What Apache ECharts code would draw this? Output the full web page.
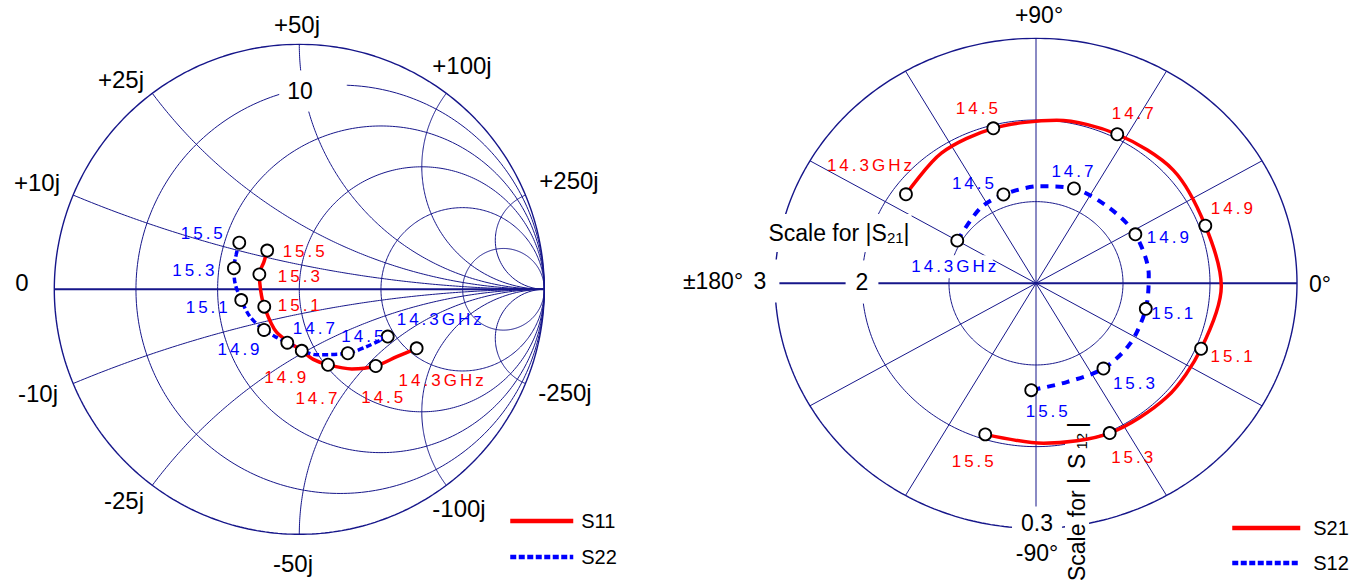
<!DOCTYPE html>
<html><head><meta charset="utf-8">
<script src="https://cdn.jsdelivr.net/npm/echarts@6/dist/echarts.min.js"></script>
<style>html,body{margin:0;padding:0;background:#fff;}#c{width:1368px;height:587px;}</style>
</head><body><div id="c"></div>
<script>
// ---------------- DATA ----------------
const freqs = [14.3,14.4,14.5,14.6,14.7,14.8,14.9,15.0,15.1,15.2,15.3,15.4,15.5];
const markerFreqs = [14.3,14.5,14.7,14.9,15.1,15.3,15.5];
// S11 / S22 reflection coefficient (real, imag)
const s11Re = [0.479,0.398,0.312,0.214,0.117,0.057,0.010,-0.093,-0.143,-0.158,-0.163,-0.144,-0.131];
const s11Im = [-0.241,-0.275,-0.313,-0.325,-0.308,-0.286,-0.251,-0.175,-0.071,-0.003,0.061,0.113,0.158];
const s22Re = [0.361,0.275,0.198,0.071,-0.049,-0.099,-0.144,-0.201,-0.237,-0.262,-0.267,-0.258,-0.245];
const s22Im = [-0.193,-0.234,-0.261,-0.267,-0.218,-0.193,-0.166,-0.112,-0.044,0.024,0.086,0.140,0.190];
// S21 / S12 magnitude and phase (deg)
const s21Mag = [1.85,1.93,1.96,2.01,2.05,2.10,2.07,2.13,2.06,2.05,2.02,1.96,1.94];
const s21Deg = [143.9,124.3,104.5,83.2,62.9,41.3,19.9,-1.0,-22.9,-42.8,-65.2,-87.5,-107.5];
const s12Mag = [0.1045,0.112,0.115,0.119,0.124,0.125,0.129,0.130,0.130,0.131,0.130,0.126,0.131];
const s12Deg = [150,125,109,87.8,69.4,47.2,27.7,4.5,-13.9,-34.2,-53.4,-73.7,-92.4];
// grid definitions
const smithR = [0,0.2,0.5,1,2,5];
const smithX = [0.2,0.5,1,2,5];
const polarRings = [1,2,3];
const polarSpokes = [0,30,60,90,120,150,180,210,240,270,300,330];
// tick / axis labels
const smithLabels = ['+50j','+25j','+100j','+10j','+250j','0','-10j','-250j','-25j','-100j','-50j','10'];
const polarLabels = ['+90°','±180°','3','2','0°','0.3','-90°'];

// ---------------- LAYOUT / STYLE ----------------
const FONT = '"Liberation Sans", Arial, sans-serif';
const GRID_COLOR = '#16168a';
const RED = '#ff0000', BLUE = '#0000ff';
const smithLabelPos = [[297,24],[121,79],[462,65],[37,182],[569,180],[22,282],[38,393],[565,392],[124,500],[459,508],[293,563],[300,91]];
const polarLabelPos = [[1039,15],[713,281],[760,281],[862,282],[1320,284],[1037,523],[1037,553]];
const s11Off = [[26,32],[8,32],[-10,34],[-15,27],[36,-1],[41,2],[38,1]];
const s22Off = [[53,-17],[16,-17],[28,-14],[-24,20],[-33,7],[-39,2],[-36,-9]];
const s21Off = [[-35,-29],[-15,-20],[17,-21],[28,-17],[32,8],[24,24],[-11,27]];
const s12Off = [[-2,26],[-29,-11],[0,-17],[34,3],[28,5],[32,15],[17,21]];

const series = [];
function addCurve(pts, xi, yi, w){
  series.push({type:'line', xAxisIndex:xi, yAxisIndex:yi, data:pts, symbol:'none', silent:true,
    lineStyle:{color:GRID_COLOR, width:w||1}, z:1});
}
const rad = d => d*Math.PI/180;
// Smith chart resistance circles
smithR.forEach(r=>{
  const c=r/(1+r), rho=1/(1+r), pts=[];
  for(let a=0;a<=360;a+=1) pts.push([c+rho*Math.cos(rad(a)), rho*Math.sin(rad(a))]);
  addCurve(pts,0,0,r===0?1.4:1);
});
// Smith chart reactance arcs
smithX.forEach(x=>[x,-x].forEach(xx=>{
  const pts=[];
  for(let a=0;a<90;a+=0.5){const r=Math.tan(rad(a)); const d=(r+1)*(r+1)+xx*xx; pts.push([(r*r-1+xx*xx)/d, 2*xx/d]);}
  pts.push([1,0]);
  addCurve(pts,0,0,1);
}));
addCurve([[-1,0],[1,0]],0,0,2);
// Polar rings and spokes
polarRings.forEach(m=>{
  const pts=[];
  for(let a=0;a<=360;a+=1) pts.push([m*Math.cos(rad(a)), m*Math.sin(rad(a))]);
  addCurve(pts,1,1,m===3?1.4:1);
});
polarSpokes.forEach(d=>addCurve([[0,0],[3*Math.cos(rad(d)),3*Math.sin(rad(d))]],1,1,d%180===0?2:1));

// data series
const s11 = freqs.map((f,i)=>[s11Re[i],s11Im[i]]);
const s22 = freqs.map((f,i)=>[s22Re[i],s22Im[i]]);
const s21 = freqs.map((f,i)=>[s21Mag[i]*Math.cos(rad(s21Deg[i])), s21Mag[i]*Math.sin(rad(s21Deg[i]))]);
const s12 = freqs.map((f,i)=>[s12Mag[i]*Math.cos(rad(s12Deg[i])), s12Mag[i]*Math.sin(rad(s12Deg[i]))]);

function dataLine(name, pts, xi, yi, color, type, width){
  series.push({name, type:'line', xAxisIndex:xi, yAxisIndex:yi, data:pts, symbol:'none', smooth:0.3, silent:true,
    lineStyle:{color, width, type, cap:'butt'}, itemStyle:{color}, z:3});
}
dataLine('S11', s11, 0,0, RED, 'solid', 3.5);
dataLine('S22', s22, 0,0, BLUE, [6,3], 3.5);
dataLine('S21', s21, 1,1, RED, 'solid', 3.5);
dataLine('S12', s12, 2,2, BLUE, [8,7], 4);

function markers(pts, offs, color, xi, yi, bgFirst){
  const data = markerFreqs.map((f,k)=>{
    const i = freqs.findIndex(v=>Math.abs(v-f)<1e-6);
    const lab = {offset:offs[k]};
    if(bgFirst && k===0){lab.backgroundColor='#fff'; lab.padding=[3,4];}
    return {value:pts[i], name: k===0 ? f.toFixed(1)+'GHz' : f.toFixed(1), label:lab};
  });
  series.push({type:'scatter', xAxisIndex:xi, yAxisIndex:yi, data, symbol:'circle', symbolSize:12, silent:true,
    itemStyle:{color:'#fff', borderColor:'#000', borderWidth:1.8, opacity:1},
    label:{show:true, position:'inside', formatter:p=>p.name, color, fontSize:17, fontFamily:FONT},
    z:4});
}
markers(s11, s11Off, RED, 0,0,false);
markers(s22, s22Off, BLUE, 0,0,false);
markers(s21, s21Off, RED, 1,1,false);
markers(s12, s12Off, BLUE, 2,2,true);

// text labels
const graphics = [];
function txt(x,y,text,extra,size){
  const st = Object.assign({text, fill:'#000', font:(size||23)+'px '+FONT, align:'center', verticalAlign:'middle'}, extra||{});
  graphics.push({type:'text', x, y, z:2, silent:true, style:st});
}
smithLabels.forEach((t,i)=>{
  if(t==='10') txt(smithLabelPos[i][0]+13, smithLabelPos[i][1], t, {backgroundColor:'#fff', padding:[9,34,9,8]}, 23);
  else txt(smithLabelPos[i][0], smithLabelPos[i][1], t, null, 24);
});
polarLabels.forEach((t,i)=>{
  let ex;
  if(t==='3') ex={backgroundColor:'#fff', padding:[10,13,10,6]};
  else if(t==='2') ex={backgroundColor:'#fff', padding:[10,10,10,10]};
  else if(t==='0.3') ex={backgroundColor:'#fff', padding:[5,9,5,9]};
  const p = polarLabelPos[i];
  const dx = t==='3' ? 3.5 : 0;
  txt(p[0]+dx, p[1], t, ex, 23);
});
const subRich = {
  sub:{font:'15px '+FONT, fill:'#000', padding:[9,0,0,0]},
  n:{font:'23px '+FONT, fill:'#000'},
  s:{font:'23px '+FONT, fill:'#000', padding:[0,4,0,5]}
};
txt(839,233,'{n|Scale for |S}{sub|21}{n||}', {rich:subRich, backgroundColor:'#fff', padding:[7,2,7,2]});
graphics.push({type:'text', x:1077, y:502, rotation:Math.PI/2, z:2, silent:true,
  style:{text:'{s|Scale for |}{s|S}{sub|12}{s||}', rich:subRich, align:'center', verticalAlign:'middle', backgroundColor:'#fff', padding:[0,2,0,2]}});

const axisBase = {type:'value', show:false};
const legendText = (padL)=>({fontSize:20, color:'#000', fontFamily:FONT, lineHeight:14, padding:[12,0,0,padL]});
const option = {
  animation:false,
  textStyle:{fontFamily:FONT},
  grid:[
    {left:54.3, top:44.3, width:490, height:490, containLabel:false, outerBoundsMode:'none'},
    {left:775, top:38.3, width:522, height:490, containLabel:false, outerBoundsMode:'none'}
  ],
  xAxis:[
    Object.assign({gridIndex:0,min:-1,max:1},axisBase),
    Object.assign({gridIndex:1,min:-3,max:3},axisBase),
    Object.assign({gridIndex:1,min:-0.3,max:0.3},axisBase)
  ],
  yAxis:[
    Object.assign({gridIndex:0,min:-1,max:1},axisBase),
    Object.assign({gridIndex:1,min:-3,max:3},axisBase),
    Object.assign({gridIndex:1,min:-0.3,max:0.3},axisBase)
  ],
  legend:[
    {data:['S11',{name:'S22', lineStyle:{type:[6,2.5]}}], orient:'vertical', left:508, top:508, padding:0,
     itemWidth:63, itemHeight:14, itemGap:10, selectedMode:false,
     itemStyle:{opacity:0}, lineStyle:{width:4.5}, textStyle:legendText(3)},
    {data:['S21',{name:'S12', lineStyle:{type:[6,2.5]}}], orient:'vertical', left:1230, top:515, padding:0,
     itemWidth:68, itemHeight:14, itemGap:9, selectedMode:false,
     itemStyle:{opacity:0}, lineStyle:{width:4.5}, textStyle:legendText(8)}
  ],
  tooltip:{show:false},
  series,
  graphic:graphics
};
const chart = echarts.init(document.getElementById('c'), null, {renderer:'svg', width:1368, height:587});
chart.setOption(option);
function spacing(){
  document.querySelectorAll('#c text').forEach(t=>{
    const f = getComputedStyle(t).fill;
    if(f==='rgb(255, 0, 0)'||f==='rgb(0, 0, 255)') t.style.letterSpacing='3px';
  });
}
spacing(); setTimeout(spacing,50);
</script></body></html>
